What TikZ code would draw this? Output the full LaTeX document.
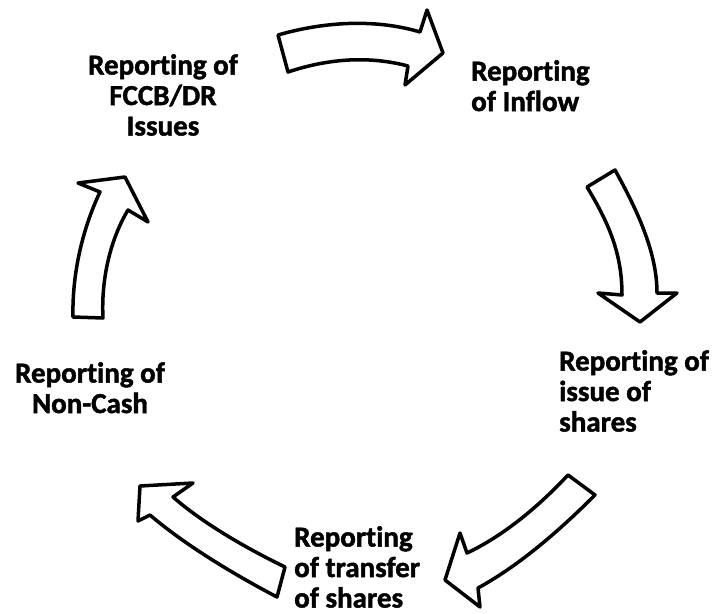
\documentclass[tikz,border=0pt]{standalone}
\usepackage{fontspec}
\setmainfont{Carlito}[Ligatures=NoCommon, BoldFeatures={FakeBold=1.5}]

\begin{document}
\begin{tikzpicture}[x=1pt, y=-1pt,
	blockarrow/.style={draw=black, line width=3.5pt, line join=round, fill=white},
	steplabel/.style={inner sep=0pt, font=\fontsize{29}{30.5}\selectfont\bfseries}]
	\useasboundingbox (0,0) rectangle (712,613);

	\draw[blockarrow] (278,35) .. controls (330,20) and (380,20) .. (420,32) -- (427,10) -- (443,53) -- (405,85) -- (408,66) .. controls (370,56) and (330,58) .. (288,72) -- cycle;
	\draw[blockarrow] (615,170) .. controls (640,215) and (657,255) .. (657,293) -- (677,293) -- (640,322) -- (598,293) -- (622,295) .. controls (622,255) and (610,225) .. (587,187) -- cycle;
	\draw[blockarrow] (568,475) .. controls (540,505) and (505,535) .. (467,553) -- (460,533) -- (445,580) -- (480,607) -- (478,588) .. controls (520,565) and (560,530) .. (595,495) -- cycle;
	\draw[blockarrow] (285,567) .. controls (250,550) and (205,525) .. (173,497) -- (193,483) -- (140,486) -- (138,521) -- (150,515) .. controls (185,545) and (235,575) .. (277,597) -- cycle;
	\draw[blockarrow] (73,317) -- (103,318) .. controls (101,280) and (110,240) .. (128,210) -- (148,222) -- (125,177) -- (78,183) -- (100,192) .. controls (82,230) and (72,275) .. (73,317) -- cycle;

	\node[steplabel, anchor=north, align=center] (fccb) at (163,54) {Reporting of\\FCCB/DR\\Issues};
	\node[steplabel, anchor=north west, align=left] (inflow) at (471,60) {Reporting\\of Inflow};
	\node[steplabel, anchor=north west, align=left] (issue) at (559,350) {Reporting of\\issue of\\shares};
	\node[steplabel, anchor=north west, align=left] (transfer) at (294,526) {Reporting\\of transfer\\of shares};
	\node[steplabel, anchor=north, align=center] (noncash) at (90,362) {Reporting of\\Non-Cash};
\end{tikzpicture}
\end{document}
